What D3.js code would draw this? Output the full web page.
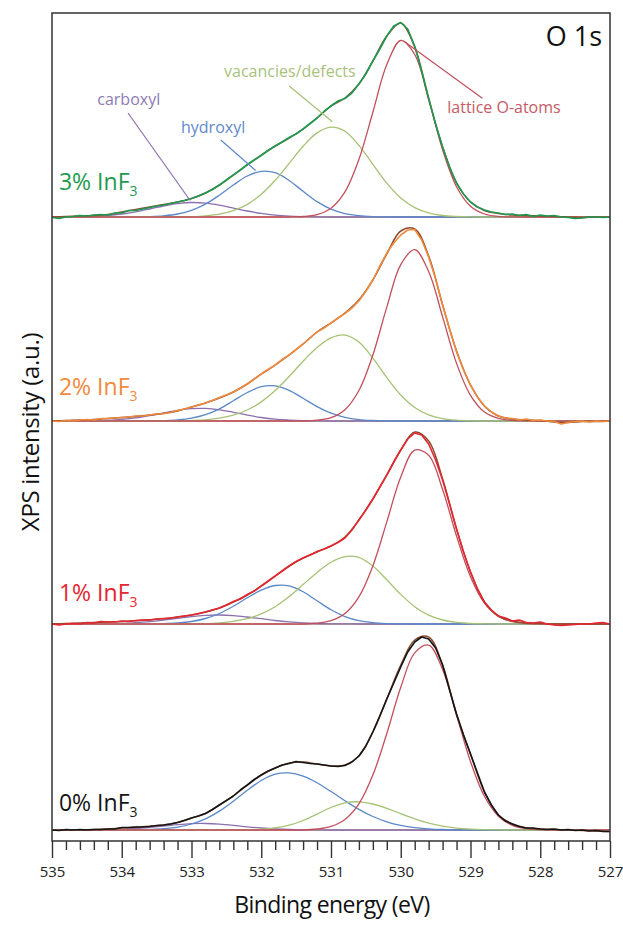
<!DOCTYPE html>
<html>
<head>
<meta charset="utf-8">
<script src="https://cdnjs.cloudflare.com/ajax/libs/d3/7.8.5/d3.min.js"></script>
<style>
  html, body { margin: 0; padding: 0; background: #fff; }
  svg { display: block; font-family: "Open Sans", "DejaVu Sans", sans-serif; }
</style>
</head>
<body>
<svg id="chart" width="623" height="927"></svg>
<script>
/*
// Binding energy grids (eV): components and fits are sampled every 0.2 eV,
// the measured spectra every 0.1 eV, both from 535 down to 527
*/
var energyFit = d3.range(0, 41).map(function(i) { return +(535 - i * 0.2).toFixed(1); });
var energyRaw = d3.range(0, 81).map(function(i) { return +(535 - i * 0.1).toFixed(1); });

var samples = ["3%", "2%", "1%", "0%"];
var offsets = [613, 409, 206, 0];           // vertical stacking offset (a.u.)
var components = ["carboxyl", "hydroxyl", "vacancies/defects", "lattice O-atoms"];
var tickValuesMajor = [535, 534, 533, 532, 531, 530, 529, 528, 527];
var tickLabels = ["535", "534", "533", "532", "531", "530", "529", "528", "527"];

// ---- 3% InF3
var carb3 = [0,0.1,0.3,0.7,1.5,3.0,5.2,8.0,11.0,13.4,14.5,13.9,11.8,8.9,6.0,3.6,1.9,0.9,0.4,0.1,0,0,0,0,0,0,0,0,0,0,0,0,0,0,0,0,0,0,0,0,0];
var hyd3 = [0,0,0,0,0,0,0,0.4,1.2,3.0,6.7,12.9,21.8,32.0,41.0,45.7,44.3,36.5,25.7,15.4,7.9,3.4,1.3,0.4,0.1,0,0,0,0,0,0,0,0,0,0,0,0,0,0,0,0];
var vac3 = [0,0,0,0,0,0,0,0,0,0.1,0.4,1.2,2.9,6.3,12.6,22.7,36.7,53.7,70.7,84.1,89.9,85.8,71.7,52.7,33.8,19.0,9.4,4.1,1.5,0.5,0.1,0,0,0,0,0,0,0,0,0,0];
var lat3 = [0,0,0,0,0,0,0,0,0,0,0,0,0,0,0,0,0,0,0.5,2.4,8.8,25.1,57.5,104.8,152.4,176.5,162.5,117.9,67.3,30.3,10.8,3.0,0.7,0.1,0,0,0,0,0,0,0];
var fit3 = [0,0.5,1,1.5,2.5,5,7.5,10,12.5,15,18.5,24,32,42,52,62,71,79,88,99,111,119,133,156,181,194,170,118,70,34,15,6.5,3.5,2,1.5,1,0.5,0,-0.5,0,0];
var raw3 = [-0.5,-1.5,0,0.5,1.5,1,2,2.5,2,4,4,6.5,6.5,8,9.5,11,12,13.5,15,16.5,
            18.5,21,24,27.5,32,37,42,47,52.5,57,61.5,66.5,71,75,79.5,83,88,93.5,99,105.5,
            111,116,118.5,124,133,143,156,168,181,191,194.5,188,171,146,119,93,70,50,34,23,
            15,10,7,5,4,2.5,3,1.5,2.5,0.5,2,1,1.5,0,-0.5,-1.5,-1,0,0,-0.5,0];

// ---- 2% InF3
var carb2 = [0,0,0.1,0.3,0.7,1.6,3.1,5.4,8.1,10.7,12.4,12.6,11.2,8.7,5.9,3.5,1.8,0.9,0.3,0.1,0,0,0,0,0,0,0,0,0,0,0,0,0,0,0,0,0,0,0,0,0];
var hyd2 = [0,0,0,0,0,0,0,0,0.3,1.0,2.8,6.3,12.2,20.2,28.5,34.3,35.1,30.7,22.8,14.4,7.8,3.6,1.4,0.5,0.1,0,0,0,0,0,0,0,0,0,0,0,0,0,0,0,0];
var vac2 = [0,0,0,0,0,0,0,0,0,0,0.5,1.2,2.8,5.8,11.0,19.1,30.4,44.5,59.8,73.5,83.1,85.9,78.9,62.9,43.4,26.0,13.5,6.1,2.4,0.8,0.2,0,0,0,0,0,0,0,0,0,0];
var lat2 = [0,0,0,0,0,0,0,0,0,0,0,0,0,0,0,0,0,0,0,0.8,3.3,11.3,30.5,66.0,113.9,156.4,171.3,149.5,104.1,57.6,25.6,8.9,2.6,0.6,0.1,0,0,0,0,0,0];
var fit2 = [0,0.5,1,1.5,2.5,3.5,4.5,6,7.5,10,14,18,23,29,37,47,56,66,77,89,98,108,121,141,167,190,192,165,116,70,36,15,5,2,1,0.5,-1,-1.5,-0.5,-0.5,0];
var raw2 = [0,-0.5,0.5,0,1,1.5,1,2.5,2.5,3,3.5,4,5,5,6,7,7.5,8.5,10.5,12,
            14,16,18,20.5,23.5,26,29,33,37,42,47,51.5,56,61.5,66,71.5,77,83,89,93,
            98,103,107.5,113,120,130,141,155,168,178,186,191,191.5,181,164,142,116,92,69,51,
            36,24,15,9,5,3,2.5,1,2,0.5,1,0,-0.5,-3,-1.5,-0.5,0,-1,0,-0.5,0];

// ---- 1% InF3
var carb1 = [0,0,0,0.1,0.3,0.6,1.3,2.4,3.9,5.6,7.4,8.6,9.0,8.4,7.0,5.3,3.5,2.1,1.1,0.5,0.2,0.1,0,0,0,0,0,0,0,0,0,0,0,0,0,0,0,0,0,0,0];
var hyd1 = [0,0,0,0,0,0,0,0,0.4,1.0,2.5,5.5,10.5,17.7,26.2,33.9,38.5,38.1,32.2,23.2,14.2,7.4,3.3,1.3,0.4,0.1,0,0,0,0,0,0,0,0,0,0,0,0,0,0,0];
var vac1 = [0,0,0,0,0,0,0,0,0,0,0.2,0.4,1.1,2.6,5.3,10.1,17.3,27.4,39.4,51.6,61.7,67.4,66.6,58.0,44.2,29.6,17.3,8.8,4.0,1.6,0.5,0.2,0,0,0,0,0,0,0,0,0];
var lat1 = [0,0,0,0,0,0,0,0,0,0,0,0,0,0,0,0,0,0,0,0.9,3.3,10.4,27.1,58.1,102.1,147.0,173.9,168.8,134.5,88.0,47.2,20.8,7.6,2.3,0.5,0.1,0,0,0,0,0];
var fit1 = [0,0.5,1,1.5,2,2.5,3.3,4.2,5.2,7,9,12,16,22,29,38,48,58,66,72,78,87,104,125,149,174,192,183,145,95,52,22,8,3,1,0.5,0,0,0,0,0];
var raw1 = [0,-1,0,0.5,0,1.5,1,2.5,2,2,3,2.5,3.5,4,4,5,5.5,6,7,8,
            9,10.5,12,14,16,19,22.5,25,29.5,33,38,43,48,53,58,62.5,66,69,72.5,75,
            78,81.5,86,94,104,114,125,137,149,162,174,185,191,189,180,164,144,120,95,72,
            52,35,22,14,8,6,3,4,1.5,1,2,0,-1,-1.5,-1,-0.5,0,0,1,1.5,0];

// ---- 0% InF3
var carb0 = [0,0,0,0.1,0.3,0.7,1.5,2.6,3.9,5.3,6.3,6.5,5.9,4.7,3.2,2.0,1.1,0.5,0.2,0.1,0,0,0,0,0,0,0,0,0,0,0,0,0,0,0,0,0,0,0,0,0];
var hyd0 = [0,0,0,0,0,0,0,0.5,1.3,2.9,6.0,11.1,18.9,28.8,39.7,49.5,55.9,57.1,53.9,47.2,38.5,29.2,20.6,13.5,8.2,4.6,2.4,1.2,0.5,0.2,0,0,0,0,0,0,0,0,0,0,0];
var vac0 = [0,0,0,0,0,0,0,0,0,0,0,0,0,0,0.2,0.8,2.1,4.8,9.5,15.8,22.5,27.2,28.2,26.0,21.7,16.3,11.2,6.8,3.8,1.9,0.9,0.4,0.1,0,0,0,0,0,0,0,0];
var lat0 = [0,0,0,0,0,0,0,0,0,0,0,0,0,0,0,0,0,0,0,1.0,3.6,10.6,26.2,54.9,96.5,142.7,177.1,184.9,160.5,115.3,68.4,33.7,13.8,4.6,1.3,0.3,0,0,0,0,0];
var fit0 = [0,0,0.3,0.5,1,2,2.8,3.7,5,7.5,12,16.5,25,34,45,55,62,67,68,66,64,65,74,98,131,165,190,193,165,115,76,38,15,6,2,1,0.5,0,-0.5,-1,-1.5];
var raw0 = [0,-0.5,0.5,0,0.5,0,0.5,0.5,1,1,2.5,2.5,3,3,3.5,4.5,5,6,7.5,9.5,
            12,14,16.5,20.5,25,29.5,34,40,45,50.5,55,59,62,65,66.5,68.5,67.5,66.5,66,65,
            64,63.5,64.5,68,74,84,98,114,131,147,163,178,188,193,191,182,165,140,116,95,
            76,57,38,25,15,9,6,3.5,2,2,1,0.5,1,0,0.5,-0.5,0,-1,-0.5,-1.5,-1.5];

var compSeries = [[carb3, hyd3, vac3, lat3], [carb2, hyd2, vac2, lat2], [carb1, hyd1, vac1, lat1], [carb0, hyd0, vac0, lat0]];
var fitSeries = [fit3, fit2, fit1, fit0];
var rawSeries = [raw3, raw2, raw1, raw0];

// colours
var compColors = ["#8c6fae", "#5b88c8", "#a6c274", "#c24f5b"];
var compTextColors = ["#8e7ab4", "#5f89c9", "#a8c27c", "#c65a66"];
var fitColor = "#8b4c30";
var sampleColors = ["#1e9a50", "#f08a3c", "#e62530", "#151515"];

// annotation anchors in data space (binding energy, intensity above the 3% baseline)
var annoText = [[533.90, 112], [532.69, 84], [531.59, 140], [528.52, 104]];
var annoFrom = [[533.91, 104], [532.58, 77], [531.60, 131], [529.96, 176]];
var annoTo = [[533.02, 16.5], [532.08, 46.5], [530.98, 95.3], [528.83, 118.7]];
var labelLift = [27, 26, 23, 19];

var svg = d3.select("#chart");
var x = d3.scaleLinear().domain([535, 527]).range([52, 610]);
var y = d3.scaleLinear().domain([-11, 817]).range([841, 13]);

svg.append("clipPath").attr("id", "plot-clip")
   .append("rect")
   .attr("x", x(535)).attr("y", y(817))
   .attr("width", x(527) - x(535)).attr("height", y(-11) - y(817));

var plot = svg.append("g").attr("clip-path", "url(#plot-clip)");

function lineFor(energies, offset, curve)
{
  return d3.line()
           .x(function(d, i) { return x(energies[i]); })
           .y(function(d) { return y(d + offset); })
           .curve(curve);
}

samples.forEach(function(s, p)
{
  var off = offsets[p];
  var g = plot.append("g").attr("class", "panel");

  // flat background line
  g.append("line")
   .attr("x1", x(535)).attr("x2", x(527))
   .attr("y1", y(off)).attr("y2", y(off))
   .attr("stroke", fitColor).attr("stroke-width", 1.2);

  // fitted components
  compSeries[p].forEach(function(vals, c)
  {
    g.append("path")
     .attr("d", lineFor(energyFit, off, d3.curveCatmullRom)(vals))
     .attr("fill", "none")
     .attr("stroke", compColors[c])
     .attr("stroke-width", 1.3);
  });

  // envelope of the fit
  g.append("path")
   .attr("d", lineFor(energyFit, off, d3.curveCatmullRom)(fitSeries[p]))
   .attr("fill", "none")
   .attr("stroke", fitColor)
   .attr("stroke-width", 1.5);

  // measured spectrum
  g.append("path")
   .attr("d", lineFor(energyRaw, off, d3.curveLinear)(rawSeries[p]))
   .attr("fill", "none")
   .attr("stroke", sampleColors[p])
   .attr("stroke-width", 1.6)
   .attr("stroke-linejoin", "round");

  // sample label
  var t = svg.append("text")
             .attr("x", x(534.9))
             .attr("y", y(off + labelLift[p]))
             .attr("fill", sampleColors[p])
             .attr("font-size", 23);
  t.append("tspan").text(s + " InF");
  t.append("tspan").attr("font-size", 14).attr("dy", 6).text("3");
});

// component annotations on the top spectrum
components.forEach(function(name, c)
{
  var off = offsets[0];
  svg.append("line")
     .attr("x1", x(annoFrom[c][0])).attr("y1", y(off + annoFrom[c][1]))
     .attr("x2", x(annoTo[c][0])).attr("y2", y(off + annoTo[c][1]))
     .attr("stroke", compColors[c]).attr("stroke-width", 1.2);
  svg.append("text")
     .attr("x", x(annoText[c][0])).attr("y", y(off + annoText[c][1]))
     .attr("text-anchor", "middle")
     .attr("font-size", 16)
     .attr("fill", compTextColors[c])
     .text(name);
});

// frame
svg.append("rect")
   .attr("x", x(535)).attr("y", y(817))
   .attr("width", x(527) - x(535)).attr("height", y(-11) - y(817))
   .attr("fill", "none").attr("stroke", "#333").attr("stroke-width", 1.5);

// bottom axis: minor ticks every 0.2 eV, labelled major ticks every 1 eV
var minorTicks = d3.range(1, 40).map(function(i) { return +(535 - i * 0.2).toFixed(1); })
                   .filter(function(v) { return v % 1 !== 0; });

var minorG = svg.append("g").attr("transform", "translate(0," + y(-11) + ")")
                .call(d3.axisBottom(x).tickValues(minorTicks).tickSize(9).tickFormat(""));
var majorG = svg.append("g").attr("transform", "translate(0," + y(-11) + ")")
                .call(d3.axisBottom(x).tickValues(tickValuesMajor).tickSize(17).tickPadding(8)
                        .tickFormat(function(d, i) { return tickLabels[i]; }));
[minorG, majorG].forEach(function(a)
{
  a.select(".domain").remove();
  a.selectAll(".tick line").attr("stroke", "#333").attr("stroke-width", 1.4);
});
majorG.selectAll(".tick text")
      .attr("font-family", "Open Sans, sans-serif")
      .attr("font-size", 15)
      .attr("fill", "#222");

// titles
svg.append("text")
   .attr("x", x(527) - 8).attr("y", 45.5)
   .attr("text-anchor", "end")
   .attr("font-size", 27)
   .attr("fill", "#111")
   .text("O 1s");

svg.append("text")
   .attr("x", 332).attr("y", 913)
   .attr("text-anchor", "middle")
   .attr("font-size", 23)
   .attr("letter-spacing", -0.6)
   .attr("fill", "#111")
   .text("Binding energy (eV)");

svg.append("text")
   .attr("transform", "translate(39,432) rotate(-90)")
   .attr("text-anchor", "middle")
   .attr("font-size", 24)
   .attr("letter-spacing", -0.3)
   .attr("fill", "#111")
   .text("XPS intensity (a.u.)");
</script>
</body>
</html>
